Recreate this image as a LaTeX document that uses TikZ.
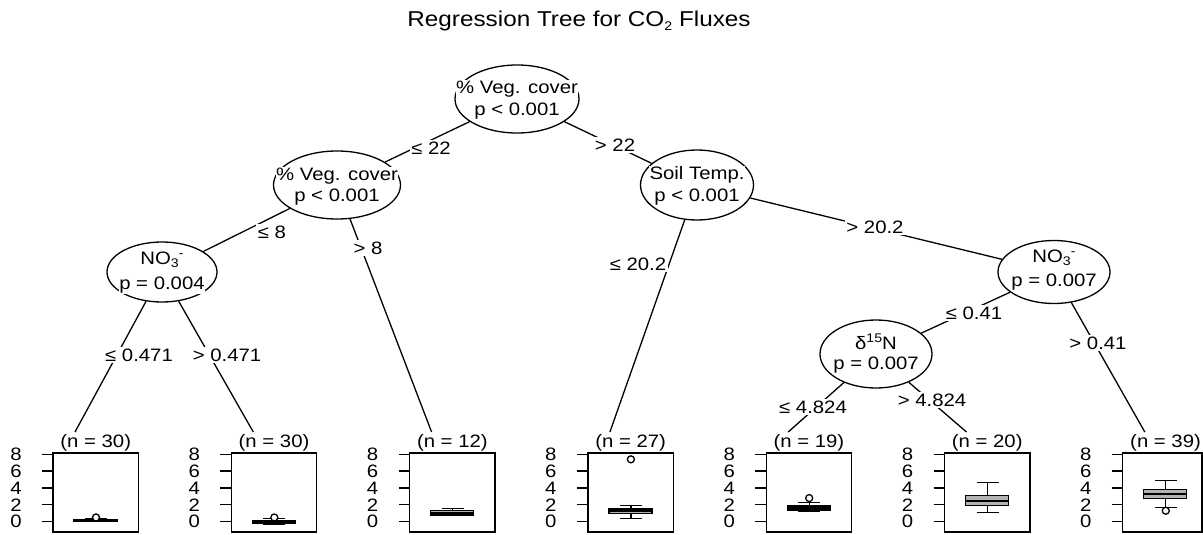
\documentclass[tikz,border=0pt]{standalone}
\usepackage{fontspec}
\setmainfont{Liberation Sans}[FakeStretch=1.13]
\usetikzlibrary{shapes.geometric}

\newcommand{\lowtxt}[1]{\raisebox{-0.35ex}{\fontsize{12.5}{12.5}\selectfont #1}}
\newcommand{\hightxt}[1]{\raisebox{0.75ex}{\fontsize{12.5}{12.5}\selectfont #1}}

\begin{document}
\begin{tikzpicture}[x=1pt,y=-1pt,
  declare function={yv(\v)=521.7-8.43*\v;},
  split/.style={ellipse,draw,fill=white,line width=1.3pt,inner sep=0pt},
  txt/.style={fill=white,inner sep=0.6pt,font=\fontsize{18}{18}\selectfont},
  lbl/.style={fill=white,inner sep=1.5pt,font=\fontsize{18}{18}\selectfont},
  bnd/.style={line width=1.3pt}]
  \useasboundingbox (0,0) rectangle (1203,535);
  \clip (0,0) rectangle (1203,535);
  \node[font=\fontsize{21.5}{21.5}\selectfont] (title) at (579,21) {Regression Tree for CO\lowtxt{2} Fluxes};
  % inner splits
  \node[split,minimum width=124pt,minimum height=68pt] (cover) at (517,99) {};
  \node[txt] (cover-a) at (517,89) {\% Veg. cover};
  \node[txt] (cover-b) at (517,111) {p < 0.001};
  \node[split,minimum width=127pt,minimum height=68pt] (coverlo) at (337,185) {};
  \node[txt] (coverlo-a) at (337,176) {\% Veg. cover};
  \node[txt] (coverlo-b) at (337,197) {p < 0.001};
  \node[split,minimum width=113pt,minimum height=70pt] (soil) at (697,185) {};
  \node[txt] (soil-a) at (697,175) {Soil Temp.};
  \node[txt] (soil-b) at (697,197) {p < 0.001};
  \node[split,minimum width=110pt,minimum height=60pt] (nitlo) at (162,272) {};
  \node[txt] (nitlo-a) at (162,260) {NO\lowtxt{3}\hightxt{-}};
  \node[txt] (nitlo-b) at (162,285) {p = 0.004};
  \node[split,minimum width=112pt,minimum height=63pt] (nithi) at (1054,272) {};
  \node[txt] (nithi-a) at (1054,258) {NO\lowtxt{3}\hightxt{-}};
  \node[txt] (nithi-b) at (1054,282) {p = 0.007};
  \node[split,minimum width=112pt,minimum height=68pt] (delta) at (876,354) {};
  \node[txt] (delta-a) at (876,342) {δ\hightxt{15}N};
  \node[txt] (delta-b) at (876,365) {p = 0.007};
  % terminal panels
  \foreach \n/\a/\m/\b/\lo/\hi [count=\i] in {
      30/0.05/0.12/0.22/0/0.4, 30/-0.15/0/0.15/-0.3/0.4,
      12/0.8/1.0/1.3/0.7/1.55, 27/1.0/1.3/1.6/0.4/1.9,
      19/1.4/1.6/1.85/1.2/2.25, 20/1.9/2.45/3.1/1.07/4.67,
      39/2.77/3.28/3.84/1.7/4.86} {
    \pgfmathsetmacro\x{53+178.3*(\i-1)}
    \pgfmathsetmacro\w{min(85.5,1202-\x)}
    \coordinate (t\i) at (\x+22,432);
    \node[lbl] (n\i) at (\x+42.75,443) {(n = \n)};
    \draw[bnd] (\x,453) rectangle (\x+\w,532);
    \foreach \v in {0,2,...,8} {
      \draw[bnd] (\x-11,{yv(\v)}) -- (\x,{yv(\v)});
      \node[inner sep=0pt,font=\fontsize{18}{18}\selectfont] (y\i-\v) at (\x-37,{yv(\v)}) {\v};
    }
    \draw[bnd] (\x+43,{yv(\lo)}) -- (\x+43,{yv(\a)});
    \draw[bnd] (\x+43,{yv(\b)}) -- (\x+43,{yv(\hi)});
    \draw[bnd] (\x+32,{yv(\lo)}) -- (\x+54,{yv(\lo)});
    \draw[bnd] (\x+32,{yv(\hi)}) -- (\x+54,{yv(\hi)});
    \draw[bnd,fill=black!30] (\x+21,{yv(\a)}) rectangle (\x+64,{yv(\b)});
    \draw[line width=2.8pt] (\x+21,{yv(\m)}) -- (\x+64,{yv(\m)});
  }
  % outliers
  \foreach \i/\v in {1/0.5, 2/0.5, 4/7.4, 5/2.8, 7/1.3}
    \draw[bnd,fill=white] ({53+178.3*(\i-1)+43},{yv(\v)}) circle[radius=3.5pt];
  % edges
  \draw[bnd] (cover) -- (coverlo);
  \draw[bnd] (cover) -- (soil);
  \draw[bnd] (coverlo) -- (nitlo);
  \draw[bnd] (coverlo) -- (t3);
  \draw[bnd] (nitlo) -- (t1);
  \draw[bnd] (nitlo) -- (t2);
  \draw[bnd] (soil) -- (t4);
  \draw[bnd] (soil) -- (nithi);
  \draw[bnd] (nithi) -- (delta);
  \draw[bnd] (nithi) -- (t7);
  \draw[bnd] (delta) -- (t5);
  \draw[bnd] (delta) -- (t6);
  % split labels
  \node[lbl] (e1) at (431,148) {≤ 22};
  \node[lbl] (e2) at (615,145) {> 22};
  \node[lbl] (e3) at (272,232) {≤ 8};
  \node[lbl] (e4) at (368,248) {> 8};
  \node[lbl] (e5) at (638,264) {≤ 20.2};
  \node[lbl] (e6) at (875,227) {> 20.2};
  \node[lbl] (e7) at (139,355) {≤ 0.471};
  \node[lbl] (e8) at (227,355) {> 0.471};
  \node[lbl] (e9) at (974,313) {≤ 0.41};
  \node[lbl] (e10) at (1098,343) {> 0.41};
  \node[lbl] (e11) at (813,407) {≤ 4.824};
  \node[lbl] (e12) at (932,400) {> 4.824};
\end{tikzpicture}
\end{document}
